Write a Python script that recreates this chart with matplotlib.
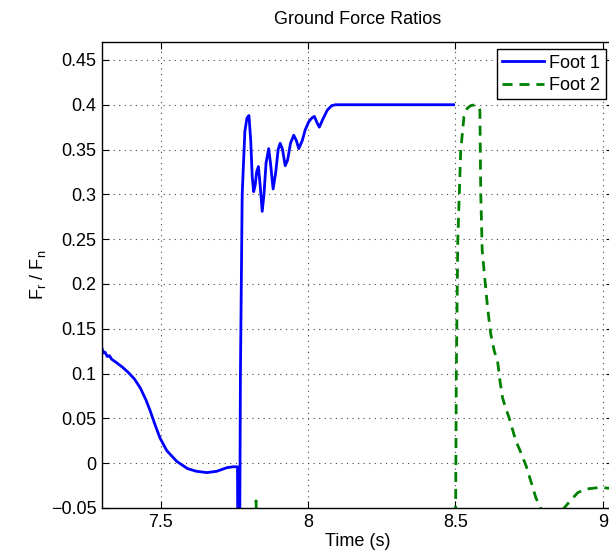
import numpy as n
from matplotlib.pyplot import subplots, rcParams

rcParams['font.family'] = ['Liberation Sans', 'DejaVu Sans']
rcParams['mathtext.fontset'] = 'custom'
rcParams['mathtext.rm'] = 'Liberation Sans'

## data
t_foot1 = [7.300, 7.305, 7.310, 7.318, 7.325, 7.333, 7.350, 7.370, 7.390, 7.410,
           7.430, 7.450, 7.463, 7.480, 7.497, 7.520, 7.554, 7.590, 7.620, 7.656,
           7.690, 7.724, 7.745, 7.760, 7.763, 7.766, 7.770, 7.776, 7.785, 7.792,
           7.799, 7.805, 7.810, 7.815, 7.820, 7.825, 7.831, 7.837, 7.844, 7.850,
           7.857, 7.866, 7.872, 7.881, 7.890, 7.898, 7.905, 7.913, 7.922, 7.930,
           7.940, 7.951, 7.960, 7.968, 7.980, 7.990, 8.002, 8.012, 8.021, 8.030,
           8.038, 8.050, 8.065, 8.080, 8.093, 8.110, 8.494]
f_foot1 = [0.128, 0.123, 0.124, 0.119, 0.120, 0.116, 0.112, 0.107, 0.101, 0.094,
           0.084, 0.070, 0.059, 0.043, 0.028, 0.014, 0.002, -0.006, -0.009, -0.0105,
           -0.009, -0.005, -0.004, -0.004, -0.200, -0.200, 0.100, 0.300, 0.370, 0.385,
           0.388, 0.360, 0.320, 0.303, 0.310, 0.325, 0.331, 0.310, 0.281, 0.300,
           0.335, 0.351, 0.335, 0.306, 0.325, 0.350, 0.357, 0.350, 0.332, 0.338,
           0.357, 0.366, 0.360, 0.351, 0.360, 0.372, 0.381, 0.385, 0.387, 0.380,
           0.375, 0.384, 0.394, 0.399, 0.400, 0.400, 0.400]

t_foot2 = [7.818, 7.823, 7.828, 8.490, 8.500, 8.503, 8.508, 8.518, 8.529, 8.540,
           8.552, 8.569, 8.578, 8.583, 8.586, 8.591, 8.600, 8.609, 8.620, 8.632,
           8.643, 8.652, 8.660, 8.670, 8.682, 8.705, 8.722, 8.740, 8.756, 8.773,
           8.792, 8.830, 8.869, 8.890, 8.915, 8.940, 8.966, 8.990, 9.023, 9.060]
f_foot2 = [-0.100, -0.042, -0.100, -0.100, -0.100, 0.100, 0.249, 0.349, 0.387, 0.396,
           0.399, 0.400, 0.398, 0.394, 0.300, 0.237, 0.205, 0.174, 0.144, 0.125,
           0.114, 0.090, 0.073, 0.062, 0.051, 0.025, 0.012, -0.003, -0.020, -0.0385,
           -0.052, -0.065, -0.050, -0.042, -0.033, -0.029, -0.028, -0.027, -0.028, -0.030]

x_ticks = [7.5, 8, 8.5, 9]
x_tick_lab = ['7.5', '8', '8.5', '9']
y_ticks = [-0.05, 0, 0.05, 0.1, 0.15, 0.2, 0.25, 0.3, 0.35, 0.4, 0.45]
y_tick_lab = ['\u22120.05', '0', '0.05', '0.1', '0.15', '0.2', '0.25', '0.3', '0.35', '0.4', '0.45']

## plot
fs = 13.
fig, ax = subplots(figsize=(6.09, 5.58), dpi=100.)
ax.set_position([102/609, 50/558, 511/609, 466/558])

ax.plot(t_foot1, f_foot1, color='#0000ff', lw=2., label='Foot 1')
ax.plot(t_foot2, f_foot2, color='#008000', lw=2., ls=(0, (3.6, 2.5)), label='Foot 2')

ax.set(xlim=(7.3, 9.035), ylim=(-0.05, 0.47), xticks=x_ticks, yticks=y_ticks)
ax.set_xticklabels(x_tick_lab)
ax.set_yticklabels(y_tick_lab)
ax.grid(True, ls=(0, (1, 4)), color='#444444', lw=0.8)
ax.tick_params(which='major', direction='in', length=5., labelsize=fs, top=True, right=True, pad=4)
for sp in ax.spines.values():
	sp.set_linewidth(1.)

ax.set_xlabel('Time (s)', fontsize=fs, labelpad=2)
ax.set_ylabel(r'F$_\mathregular{r}$ / F$_\mathregular{n}$', fontsize=fs, labelpad=2)
ax.set_title('Ground Force Ratios', fontsize=fs, pad=13)

lg = ax.legend(loc='upper right', fontsize=fs, fancybox=False, framealpha=1., edgecolor='k',
			   handlelength=2.3, handletextpad=0.3, borderaxespad=0.4, borderpad=0.3, labelspacing=0.3)
lg.get_frame().set_linewidth(1.)

fig.savefig('out.png')
